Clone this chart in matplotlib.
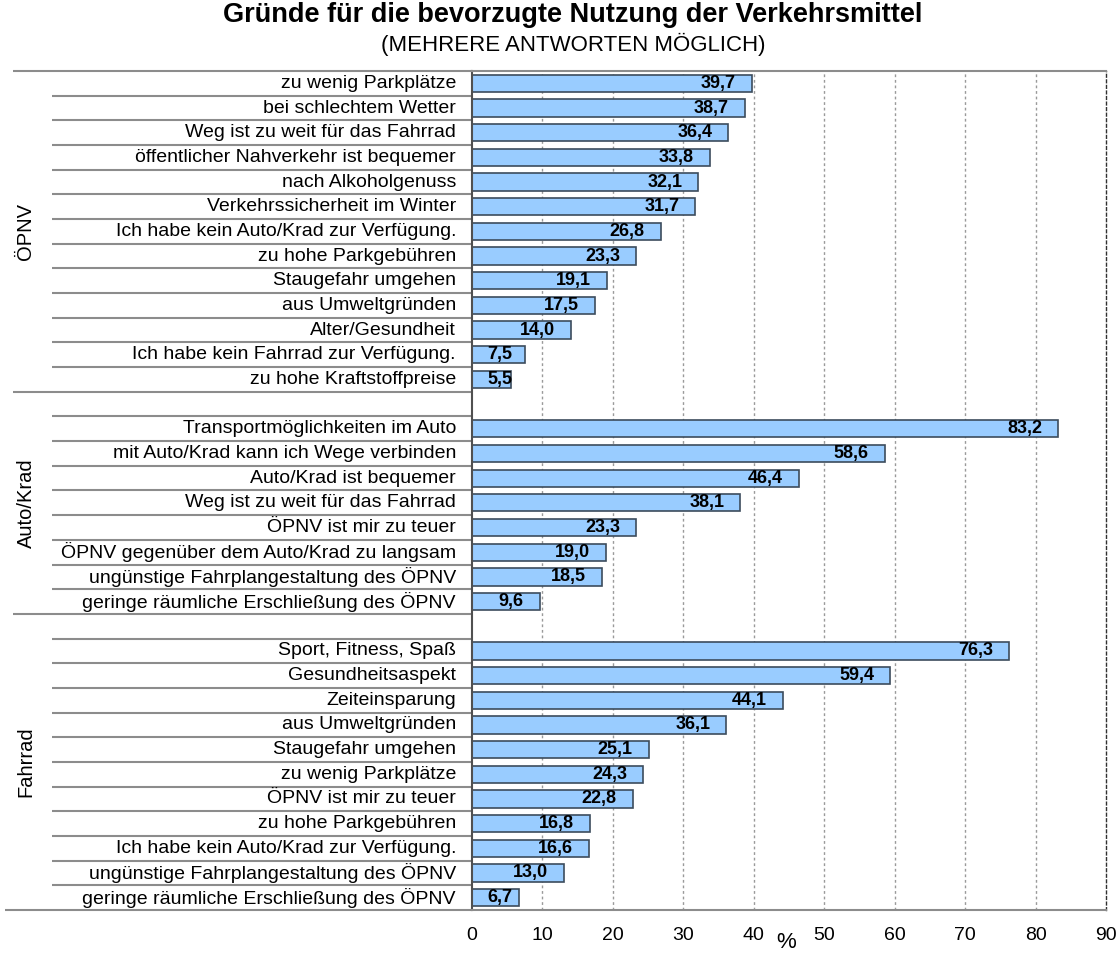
import matplotlib
matplotlib.use("Agg")
import matplotlib.pyplot as plt
from matplotlib.transforms import blended_transform_factory

plt.rcParams['font.family'] = ['Liberation Sans', 'DejaVu Sans']

title = "Gründe für die bevorzugte Nutzung der Verkehrsmittel"
subtitle = "(MEHRERE ANTWORTEN MÖGLICH)"

groups = ["ÖPNV", "Auto/Krad", "Fahrrad"]

oepnv_labels = ["zu wenig Parkplätze", "bei schlechtem Wetter", "Weg ist zu weit für das Fahrrad",
                "öffentlicher Nahverkehr ist bequemer", "nach Alkoholgenuss",
                "Verkehrssicherheit im Winter", "Ich habe kein Auto/Krad zur Verfügung.",
                "zu hohe Parkgebühren", "Staugefahr umgehen", "aus Umweltgründen",
                "Alter/Gesundheit", "Ich habe kein Fahrrad zur Verfügung.", "zu hohe Kraftstoffpreise"]
oepnv_values = [39.7, 38.7, 36.4, 33.8, 32.1, 31.7, 26.8, 23.3, 19.1, 17.5, 14.0, 7.5, 5.5]

auto_labels = ["Transportmöglichkeiten im Auto", "mit Auto/Krad kann ich Wege verbinden",
               "Auto/Krad ist bequemer", "Weg ist zu weit für das Fahrrad",
               "ÖPNV ist mir zu teuer", "ÖPNV gegenüber dem Auto/Krad zu langsam",
               "ungünstige Fahrplangestaltung des ÖPNV", "geringe räumliche Erschließung des ÖPNV"]
auto_values = [83.2, 58.6, 46.4, 38.1, 23.3, 19.0, 18.5, 9.6]

rad_labels = ["Sport, Fitness, Spaß", "Gesundheitsaspekt", "Zeiteinsparung", "aus Umweltgründen",
              "Staugefahr umgehen", "zu wenig Parkplätze", "ÖPNV ist mir zu teuer",
              "zu hohe Parkgebühren", "Ich habe kein Auto/Krad zur Verfügung.",
              "ungünstige Fahrplangestaltung des ÖPNV", "geringe räumliche Erschließung des ÖPNV"]
rad_values = [76.3, 59.4, 44.1, 36.1, 25.1, 24.3, 22.8, 16.8, 16.6, 13.0, 6.7]

xticks = [0, 10, 20, 30, 40, 50, 60, 70, 80, 90]
xlabel = "%"

# Build rows: ÖPNV items, blank, Auto items, blank, Fahrrad items
rows_labels = []
rows_values = []
group_spans = []
for gi, (labs, vals) in enumerate([(oepnv_labels, oepnv_values),
                                   (auto_labels, auto_values),
                                   (rad_labels, rad_values)]):
    gstart = len(rows_labels)
    if gi > 0:
        rows_labels.append(None)
        rows_values.append(None)
    rows_labels.extend(labs)
    rows_values.extend(vals)
    group_spans.append((gstart, len(rows_labels) - 1))
n = len(rows_labels)

W, H = 1120, 959
fig = plt.figure(figsize=(W / 100, H / 100), dpi=100)
ax_l, ax_r, ax_t, ax_b = 472, 1106, 71, 910
ax = fig.add_axes([ax_l / W, 1 - ax_b / H, (ax_r - ax_l) / W, (ax_b - ax_t) / H])

ax.set_xlim(0, 90)
ax.set_ylim(n - 0.5, -0.5)

for x in xticks[1:-1]:
    ax.axvline(x, color='#9a9a9a', lw=1, ls=(0, (2, 2)), zorder=0)

ys = [i for i, v in enumerate(rows_values) if v is not None]
vals = [rows_values[i] for i in ys]
ax.barh(ys, vals, height=0.7, color='#99ccff', edgecolor='#3c4c5c', lw=1.2, zorder=2)

px_to_pt = 72 / 100
for y, v in zip(ys, vals):
    s = f"{v:.1f}".replace('.', ',')
    if v < 8:
        ax.annotate(s, (0, y), xytext=(15 * px_to_pt, 0), textcoords='offset points',
                    ha='left', va='center', fontsize=13, fontweight='bold', zorder=3)
    else:
        ax.annotate(s, (v, y), xytext=(-16 * px_to_pt, 0), textcoords='offset points',
                    ha='right', va='center', fontsize=13, fontweight='bold', zorder=3)

ax.set_xticks(xticks)
ax.set_xticklabels([str(t) for t in xticks], fontsize=14)
ax.tick_params(axis='x', length=0, pad=12)
ax.set_yticks([])

for side in ['top', 'bottom']:
    ax.spines[side].set_color('#8c8c8c')
    ax.spines[side].set_linewidth(1.5)
ax.spines['left'].set_color('#505050')
ax.spines['left'].set_linewidth(1.5)
ax.spines['right'].set_color('#303030')
ax.spines['right'].set_linewidth(1)
ax.spines['right'].set_linestyle((0, (2, 2)))

# Left label table
trans = blended_transform_factory(ax.transAxes, ax.transData)
axw = ax_r - ax_l
def xf(px):
    return (px - ax_l) / axw

group_starts = {gs for gs, ge in group_spans}
for k in range(n + 1):
    yb = k - 0.5
    if k == n:
        x0 = xf(5)
    elif k in group_starts:
        x0 = xf(13)
    else:
        x0 = xf(52)
    ax.plot([x0, 0], [yb, yb], transform=trans, color='#8c8c8c', lw=1.5,
            clip_on=False, solid_capstyle='butt')

for i, lab in enumerate(rows_labels):
    if lab is None:
        continue
    ax.text(xf(ax_l - 16), i, lab, transform=trans, ha='right', va='center', fontsize=14)

for g, (gs, ge) in zip(groups, group_spans):
    ax.text(xf(26), (gs + ge) / 2, g, transform=trans, ha='center', va='center',
            rotation=90, fontsize=14.5)

fig.text(573 / W, 1 - 15 / H, title, ha='center', va='center', fontsize=19.5, fontweight='bold')
fig.text(573 / W, 1 - 44 / H, subtitle, ha='center', va='center', fontsize=16)
fig.text(786 / W, 1 - 942 / H, xlabel, ha='center', va='center', fontsize=16)

fig.savefig("out.png", dpi=100)
